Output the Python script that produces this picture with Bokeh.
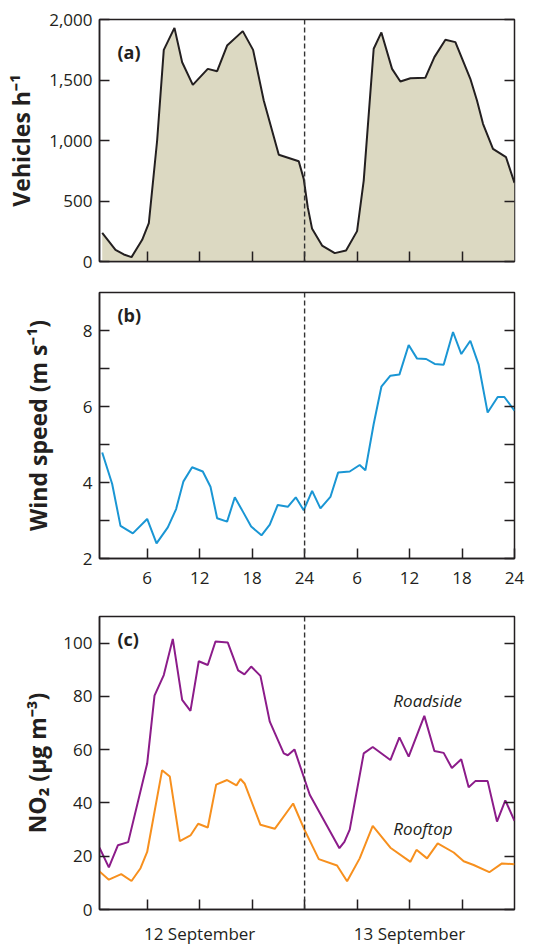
from bokeh.plotting import figure
from bokeh.layouts import column
from bokeh.models import Range1d, FixedTicker, LinearAxis, Span, Label
from bokeh.embed import file_html
from bokeh.resources import INLINE

# ---------------- data (hour of the two-day period, value) ----------------
veh_hour = [0.86, 2.38, 3.33, 4.21, 5.43, 6.19, 7.14, 7.90, 9.12, 10.0, 11.22, 12.93,
            14.0, 15.14, 16.93, 18.11, 19.33, 21.05, 23.33, 23.9, 24.36, 24.86, 26.0,
            27.45, 28.74, 30.0, 30.76, 31.9, 32.78, 34.0, 34.95, 36.1, 37.8, 38.84,
            40.1, 41.24, 42.95, 43.71, 44.4, 45.54, 47.03, 48.0]
veh_count = [237, 96, 58, 36, 179, 317, 1000, 1749, 1931, 1647, 1460, 1592,
             1573, 1785, 1904, 1749, 1331, 882, 829, 683, 449, 270, 132,
             69, 91, 251, 669, 1758, 1893, 1592, 1488, 1515, 1518, 1689,
             1832, 1813, 1510, 1331, 1138, 931, 862, 650]

wind_hour = [0.86, 2.0, 2.95, 4.36, 6.0, 7.07, 8.36, 9.31, 10.15, 11.14, 12.36, 13.24,
             14.0, 15.14, 16.02, 16.93, 17.89, 19.07, 20.02, 20.93, 22.08, 22.99, 23.9,
             24.86, 25.81, 26.95, 27.83, 29.16, 30.3, 30.95, 31.9, 32.78, 33.81, 34.84,
             35.9, 36.86, 37.9, 38.88, 39.9, 40.97, 41.92, 42.95, 43.9, 44.93, 46.08,
             46.84, 48.0]
wind_speed = [4.79, 3.96, 2.86, 2.66, 3.04, 2.40, 2.82, 3.30, 4.03, 4.40, 4.29, 3.89,
              3.06, 2.97, 3.61, 3.24, 2.84, 2.61, 2.89, 3.41, 3.36, 3.61, 3.27,
              3.78, 3.32, 3.62, 4.26, 4.29, 4.46, 4.32, 5.54, 6.52, 6.81, 6.84,
              7.62, 7.26, 7.25, 7.12, 7.10, 7.96, 7.38, 7.73, 7.10, 5.84, 6.25,
              6.25, 5.89]

road_hour = [0.55, 1.62, 2.65, 3.83, 6.0, 6.84, 7.90, 8.93, 10.0, 10.95, 11.90, 12.93,
             13.81, 15.22, 16.4, 17.12, 17.89, 18.95, 20.02, 21.62, 22.08, 22.84, 24.59,
             27.98, 28.55, 29.16, 30.76, 31.79, 33.81, 34.84, 35.9, 37.69, 38.84, 39.9,
             40.84, 41.91, 42.76, 43.52, 44.93, 46.0, 46.95, 48.0]
road_no2 = [23.2, 15.8, 24.1, 25.3, 54.8, 80.3, 88.0, 101.6, 78.7, 74.6, 93.2, 91.8,
            100.6, 100.2, 89.8, 88.3, 91.2, 87.7, 70.5, 58.6, 57.9, 60.1, 43.1,
            23.0, 25.4, 30.0, 58.6, 61.0, 56.1, 64.6, 57.4, 72.7, 59.5, 58.8,
            53.1, 56.4, 45.9, 48.2, 48.2, 33.0, 41.0, 33.3]

roof_hour = [0.55, 1.62, 3.03, 4.21, 5.24, 6.0, 7.71, 8.59, 9.73, 10.95, 11.83, 12.93,
             13.89, 15.14, 16.21, 16.67, 17.16, 18.95, 20.59, 22.69, 23.98, 25.62, 27.71,
             28.86, 30.3, 31.79, 33.81, 36.1, 36.79, 38.0, 39.22, 41.05, 42.19, 43.33,
             45.12, 46.57, 48.0]
roof_no2 = [14.3, 11.2, 13.3, 10.7, 15.5, 21.6, 52.3, 49.9, 25.7, 27.8, 32.2, 30.8,
            46.9, 48.6, 46.6, 49.0, 47.2, 31.8, 30.3, 39.8, 30.0, 18.9, 16.5,
            10.6, 19.2, 31.4, 23.2, 17.9, 22.4, 19.2, 24.8, 21.4, 18.1, 16.7,
            14.0, 17.3, 17.0]

hour_ticks = [6, 12, 18, 24, 30, 36, 42]
wind_hour_ticks = [6, 12, 18, 24, 30, 36, 42, 48]
wind_hour_labels = {6: "6", 12: "12", 18: "18", 24: "24", 30: "6", 36: "12", 42: "18", 48: "24"}
date_ticks = [12, 36]
date_labels = {12: "12 September", 36: "13 September"}
date_minor = [6, 18, 24, 30, 42]
veh_ticks = [0, 500, 1000, 1500, 2000]
veh_labels = {0: "0", 500: "500", 1000: "1,000", 1500: "1,500", 2000: "2,000"}
wind_ticks = [2, 4, 6, 8]
wind_minor = [3, 5, 7]
no2_ticks = [0, 20, 40, 60, 80, 100]
midnight = 24
x_lo, x_hi = 0.55, 48.0

# ---------------- styling ----------------
FONT = "Open Sans"
INK = "#231f20"
W = 540


def make_fig(height, y_lo, y_hi, top, bottom):
    p = figure(width=W, height=height, x_range=Range1d(x_lo, x_hi),
               y_range=Range1d(y_lo, y_hi), output_backend="svg",
               toolbar_location=None, min_border_left=99, min_border_right=26,
               min_border_top=top, min_border_bottom=bottom)
    p.grid.visible = False
    p.outline_line_color = INK
    p.outline_line_width = 1.5
    p.outline_line_alpha = 1
    return p


def style_axis(ax):
    ax.axis_line_color = INK
    ax.axis_line_width = 1.5
    ax.major_tick_in = 10
    ax.major_tick_out = 0
    ax.major_tick_line_color = INK
    ax.major_tick_line_width = 1.5
    ax.minor_tick_in = 10
    ax.minor_tick_out = 0
    ax.minor_tick_line_color = INK
    ax.minor_tick_line_width = 1.5
    ax.major_label_text_font = FONT
    ax.major_label_text_color = INK
    ax.major_label_text_font_size = "17px"
    ax.axis_label_text_font = FONT
    ax.axis_label_text_font_style = "bold"
    ax.axis_label_text_color = INK
    ax.axis_label_text_font_size = "23px"


def add_right(p, ticks):
    # tick marks only (drawn as minor ticks, so no labels)
    ax = LinearAxis(ticker=FixedTicker(ticks=[], minor_ticks=ticks))
    style_axis(ax)
    ax.axis_line_color = None
    p.add_layout(ax, "right")


def add_mid(p):
    p.add_layout(Span(location=midnight, dimension="height", line_color="#333333",
                      line_width=1.4, line_dash="5 3"))


def panel_label(p, x, y, text):
    p.add_layout(Label(x=x, y=y, text=text, text_font=FONT, text_font_style="bold",
                       text_font_size="18px", text_color=INK, text_baseline="middle"))


# ---------------- (a) vehicles ----------------
pa = make_fig(276, 0, 2000, 19, 15)
pa.varea(x=veh_hour, y1=[0] * len(veh_hour), y2=veh_count, fill_color="#dcd9c2")
pa.line(veh_hour, veh_count, line_color=INK, line_width=2)
add_mid(pa)
style_axis(pa.yaxis[0])
pa.yaxis[0].ticker = FixedTicker(ticks=veh_ticks)
pa.yaxis[0].major_label_overrides = veh_labels
pa.yaxis[0].major_label_standoff = 7
pa.yaxis[0].axis_label = "Vehicles h\u207b\u00b9"
pa.yaxis[0].axis_label_standoff = 9
style_axis(pa.xaxis[0])
pa.xaxis[0].ticker = FixedTicker(ticks=[], minor_ticks=hour_ticks)
add_right(pa, veh_ticks)
panel_label(pa, 2.6, 1731, "(a)")

# ---------------- (b) wind speed ----------------
pb = make_fig(324, 2, 9, 16, 42)
pb.line(wind_hour, wind_speed, line_color="#1a96d4", line_width=2)
add_mid(pb)
style_axis(pb.yaxis[0])
pb.yaxis[0].ticker = FixedTicker(ticks=wind_ticks, minor_ticks=wind_minor)
pb.yaxis[0].major_label_standoff = 7
pb.yaxis[0].axis_label = "Wind speed (m s\u207b\u00b9)"
pb.yaxis[0].axis_label_standoff = 26
style_axis(pb.xaxis[0])
pb.xaxis[0].ticker = FixedTicker(ticks=wind_hour_ticks)
pb.xaxis[0].major_label_overrides = wind_hour_labels
pb.xaxis[0].major_label_standoff = 13
add_right(pb, wind_ticks + wind_minor)
panel_label(pb, 2.6, 8.4, "(b)")

# ---------------- (c) NO2 ----------------
pc = make_fig(347, 0, 110, 16, 36)
pc.line(road_hour, road_no2, line_color="#8c1c8a", line_width=2)
pc.line(roof_hour, roof_no2, line_color="#f7901e", line_width=2)
add_mid(pc)
style_axis(pc.yaxis[0])
pc.yaxis[0].ticker = FixedTicker(ticks=no2_ticks)
pc.yaxis[0].major_label_standoff = 7
pc.yaxis[0].axis_label = "NO\u2082 (\u00b5g m\u207b\u00b3)"
pc.yaxis[0].axis_label_standoff = 7
style_axis(pc.xaxis[0])
pc.xaxis[0].ticker = FixedTicker(ticks=date_ticks, minor_ticks=date_minor)
pc.xaxis[0].major_label_overrides = date_labels
pc.xaxis[0].major_label_standoff = 12
add_right(pc, no2_ticks)
panel_label(pc, 2.6, 101.7, "(c)")
pc.add_layout(Label(x=34.15, y=78.4, text="Roadside", text_font=FONT, text_font_style="italic",
                    text_font_size="17px", text_color=INK, text_baseline="middle"))
pc.add_layout(Label(x=34.15, y=30.4, text="Rooftop", text_font=FONT, text_font_style="italic",
                    text_font_size="17px", text_color=INK, text_baseline="middle"))

layout = column(pa, pb, pc, spacing=0)
open("out.html", "w").write(file_html(layout, INLINE))
